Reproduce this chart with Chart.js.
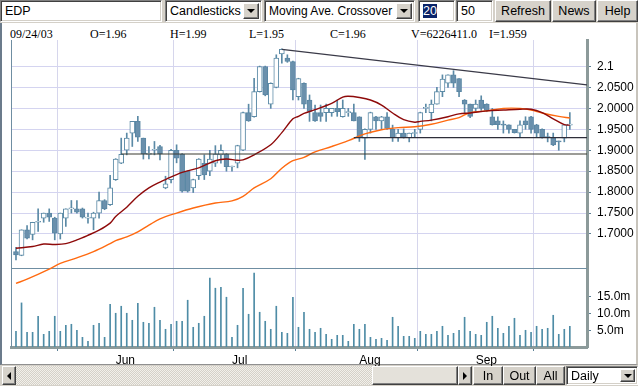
<!DOCTYPE html>
<html>
<head>
<meta charset="utf-8">
<script src="https://cdn.jsdelivr.net/npm/chart.js@4.4.0/dist/chart.umd.min.js"></script>
<style>
  body { margin:0; width:638px; height:386px; position:relative; overflow:hidden; background:#d4d0c8; font-family:'Liberation Sans', Arial, sans-serif; }
  .w { position:absolute; box-sizing:border-box; display:flex; align-items:center; white-space:nowrap; font-size:12.5px; color:#000; }
  .sunk { background:#fff; border:1px solid; border-color:#808080 #fff #fff #808080; box-shadow:inset 1px 1px 0 #404040, inset -1px -1px 0 #d4d0c8; padding-left:4px; }
  .btn { background:#d6d2ca; border:1px solid; border-color:#fff #404040 #404040 #fff; box-shadow:inset -1px -1px 0 #808080; justify-content:center; padding:0; }
  .dd { position:absolute; right:2px; top:2px; bottom:2px; width:16px; }
  .tri-d { width:0; height:0; border-left:4px solid transparent; border-right:4px solid transparent; border-top:4px solid #000; }
  .tri-l { width:0; height:0; border-top:4px solid transparent; border-bottom:4px solid transparent; border-right:4px solid #000; }
  .tri-r { width:0; height:0; border-top:4px solid transparent; border-bottom:4px solid transparent; border-left:4px solid #000; }
  #panel { position:absolute; left:0; top:23px; width:638px; height:342px; box-sizing:border-box; background:#fff; border-left:2px solid #6b7b8b; border-right:2px solid #c8c4bc; border-bottom:1px solid #909090; }
  .info { position:absolute; top:27px; font-family:'Liberation Serif', 'Times New Roman', serif; font-size:12px; color:#000; }
  #track { background:repeating-conic-gradient(#d4d0c8 0 25%, #f2f0ea 0 50%) 0 0/2px 2px; border:none; }
  canvas { position:absolute; left:0; top:0; }
</style>
</head>
<body>
<div id="panel"></div>

<div class="w sunk" style="left:0;top:0;width:162px;height:22px;">EDP</div>
<div class="w sunk" style="left:165px;top:0;width:97px;height:22px;">Candlesticks<div class="w btn dd"><div class="tri-d"></div></div></div>
<div class="w sunk" style="left:264px;top:0;width:151px;height:22px;font-size:12px;">Moving Ave. Crossover<div class="w btn dd"><div class="tri-d"></div></div></div>
<div class="w sunk" style="left:418px;top:0;width:37px;height:22px;"><span style="background:#0a246a;color:#fff;">20</span></div>
<div class="w sunk" style="left:456px;top:0;width:37px;height:22px;">50</div>
<div class="w btn" style="left:495px;top:0;width:56px;height:22px;">Refresh</div>
<div class="w btn" style="left:552px;top:0;width:44px;height:22px;">News</div>
<div class="w btn" style="left:597px;top:0;width:41px;height:22px;">Help</div>

<div class="info" style="left:10px">09/24/03</div>
<div class="info" style="left:90px">O=1.96</div>
<div class="info" style="left:170px">H=1.99</div>
<div class="info" style="left:249px">L=1.95</div>
<div class="info" style="left:330px">C=1.96</div>
<div class="info" style="left:411px">V=6226411.0</div>
<div class="info" style="left:489px">I=1.959</div>

<canvas id="chart" width="638" height="386"></canvas>

<div class="w btn" style="left:2px;top:366px;width:14px;height:19px;"><div class="tri-l"></div></div>
<div class="w" id="track" style="left:16px;top:366px;width:442px;height:19px;"></div>
<div class="w btn" style="left:372px;top:366px;width:86px;height:19px;background:#e4e1da;"></div>
<div class="w btn" style="left:458px;top:366px;width:14px;height:19px;"><div class="tri-r"></div></div>
<div class="w btn" style="left:473px;top:366px;width:30px;height:19px;">In</div>
<div class="w btn" style="left:503px;top:366px;width:33px;height:19px;">Out</div>
<div class="w btn" style="left:536px;top:366px;width:29px;height:19px;">All</div>
<div class="w sunk" style="left:566px;top:366px;width:72px;height:19px;">Daily<div class="w btn dd" style="width:15px"><div class="tri-d"></div></div></div>

<script>
// daily OHLC, index 0 = first trading day shown (early May 2003)
const open = [1.658,1.649,1.710,1.699,1.728,1.738,1.750,1.738,1.700,1.738,
  1.760,1.760,1.760,1.738,1.738,1.750,1.780,1.770,1.830,1.869,
  1.900,1.941,1.969,1.929,1.890,1.900,1.909,1.810,1.830,1.900,
  1.890,1.850,1.810,1.839,1.869,1.850,1.869,1.889,1.891,1.860,
  1.869,1.900,1.990,1.980,2.040,2.100,2.010,2.050,2.130,2.120,
  2.112,2.028,2.060,2.020,1.990,1.990,1.990,1.990,2.000,1.980,
  1.990,1.990,1.980,1.929,1.950,1.980,1.970,1.980,1.950,1.930,
  1.941,1.930,1.940,1.950,2.000,1.990,2.010,2.040,2.060,2.080,
  2.071,2.020,2.010,2.000,2.020,2.010,1.980,1.970,1.961,1.961,
  1.950,1.941,1.970,1.980,1.961,1.950,1.931,1.930,1.921,1.929,
  1.960];
const high = [1.668,1.710,1.720,1.728,1.760,1.750,1.760,1.740,1.750,1.760,
  1.780,1.780,1.762,1.750,1.752,1.800,1.782,1.840,1.880,1.929,
  1.941,1.969,1.981,1.929,1.909,1.921,1.912,1.838,1.902,1.913,
  1.892,1.851,1.831,1.880,1.889,1.900,1.911,1.913,1.892,1.862,
  1.912,1.991,2.010,2.072,2.101,2.101,2.061,2.128,2.142,2.128,
  2.113,2.072,2.061,2.032,2.008,2.008,2.010,2.000,2.020,2.020,
  2.000,2.010,1.980,1.951,1.991,1.981,1.981,1.990,1.960,1.950,
  1.951,1.941,1.950,1.991,2.010,2.020,2.050,2.080,2.080,2.090,
  2.071,2.021,2.010,2.020,2.030,2.011,2.000,1.980,1.970,1.961,
  1.950,1.970,1.980,1.981,1.962,1.951,1.941,1.941,1.922,1.962,
  1.990];
const low = [1.638,1.648,1.688,1.686,1.706,1.728,1.730,1.686,1.688,1.718,
  1.750,1.750,1.738,1.726,1.710,1.738,1.758,1.768,1.828,1.868,
  1.889,1.909,1.921,1.879,1.879,1.889,1.877,1.808,1.822,1.870,
  1.800,1.800,1.799,1.830,1.830,1.839,1.861,1.869,1.850,1.850,
  1.858,1.899,1.969,1.979,2.039,2.030,2.000,2.049,2.108,2.110,
  2.020,2.020,2.000,1.969,1.969,1.969,1.969,1.981,1.981,1.979,
  1.981,1.970,1.921,1.878,1.941,1.950,1.950,1.950,1.921,1.921,
  1.929,1.920,1.930,1.941,1.990,1.970,2.010,2.028,2.050,2.050,
  2.028,1.990,1.978,1.992,1.995,1.992,1.960,1.950,1.941,1.941,
  1.941,1.930,1.950,1.941,1.930,1.929,1.920,1.911,1.900,1.920,
  1.950];
const close = [1.650,1.710,1.690,1.728,1.728,1.750,1.740,1.702,1.750,1.760,
  1.760,1.752,1.740,1.738,1.750,1.780,1.760,1.810,1.879,1.890,
  1.929,1.969,1.931,1.891,1.890,1.900,1.891,1.820,1.900,1.881,
  1.802,1.802,1.830,1.879,1.841,1.879,1.891,1.900,1.861,1.860,
  1.911,1.990,1.970,2.040,2.100,2.032,2.060,2.120,2.141,2.112,
  2.044,2.071,2.010,1.993,1.970,1.981,2.000,2.000,1.992,2.000,
  1.990,1.970,1.930,1.950,1.990,1.970,1.980,1.952,1.930,1.941,
  1.931,1.941,1.940,1.990,2.000,2.010,2.040,2.070,2.080,2.060,
  2.040,2.010,1.981,2.010,2.000,1.995,1.961,1.961,1.960,1.950,
  1.942,1.961,1.961,1.950,1.941,1.931,1.930,1.913,1.920,1.961,
  1.960];
// volume in millions
const volume = [4.7,13.2,4.4,4.4,9.2,3.8,4.7,9.2,4.7,6.5,
  6.8,5.0,2.9,1.7,6.5,7.1,2.9,12.8,10.1,12.2,
  10.1,8.0,13.1,7.4,7.1,11.9,8.0,5.3,6.8,7.7,
  7.7,14.0,5.9,7.1,9.2,20.6,17.6,17.9,14.9,2.9,
  6.5,17.6,9.8,22.1,10.4,7.7,5.3,12.2,4.4,4.1,
  14.9,5.9,10.4,5.3,4.4,5.6,3.8,2.3,3.5,3.5,
  1.7,6.8,5.3,6.8,2.9,2.3,2.6,2.0,8.9,6.2,
  3.2,3.2,2.6,4.7,3.8,3.8,4.7,6.2,3.5,4.1,
  5.0,8.9,4.7,3.8,3.5,7.4,9.2,5.6,4.1,6.2,
  8.6,3.5,5.0,4.4,6.2,5.3,5.6,9.5,3.8,5.3,
  6.2];

// moving averages (day index, value)
const ma20Day = [0,3,5,7,9,11,13,15,17,18,20,22,24,26,27,30,33,36,38,40,41,43,46,48,50,51,52,54,57,59,60,62,64,66,68,70,72,73,75,78,80,82,85,88,91,93,95,97,99,100];
const ma20 = [1.666,1.670,1.676,1.675,1.677,1.686,1.697,1.709,1.726,1.742,1.764,1.790,1.810,1.824,1.830,1.847,1.858,1.875,1.879,1.876,1.877,1.889,1.913,1.942,1.975,1.981,1.988,1.997,2.012,2.027,2.029,2.026,2.020,2.008,1.989,1.973,1.967,1.969,1.972,1.980,1.987,1.989,1.994,1.996,1.998,1.998,1.990,1.975,1.961,1.960];
const ma50Day = [0,2,6,8,11,14,17,18,20,22,24,26,29,32,36,39,41,43,46,48,50,52,54,57,60,63,66,69,72,75,78,80,82,85,88,91,93,95,98,100];
const ma50 = [1.582,1.592,1.616,1.630,1.643,1.658,1.677,1.684,1.693,1.705,1.721,1.736,1.750,1.762,1.774,1.779,1.790,1.810,1.832,1.857,1.875,1.883,1.896,1.909,1.923,1.939,1.949,1.954,1.956,1.962,1.972,1.978,1.990,1.994,2.000,2.000,1.996,1.989,1.981,1.977];

// drawn trend lines (day index, value)
const resistDay = [48, 103.1];
const resistVal = [2.141, 2.056];
const support1Day = [19, 103.1];
const support1Val = [1.891, 1.891];
const support2Day = [61, 103.1];
const support2Val = [1.930, 1.930];

const priceTicks = [1.70, 1.75, 1.80, 1.85, 1.90, 1.95, 2.00, 2.05, 2.10];
const priceTickLabels = ['1.7000','1.7500','1.8000','1.8500','1.9000','1.9500','2.0000','2.0500','2.1'];
const volTicks = [5, 10, 15];
const volTickLabels = ['5.0m','10.0m','15.0m'];
const monthDay = [18, 39, 62, 83];
const monthLabels = ['Jun','Jul','Aug','Sep'];

const WICK = '#5b8aa6';
const FONT = { family: "'Liberation Sans', Arial, sans-serif", size: 12 };
const pts = (xs, ys) => xs.map((x, i) => ({x: x, y: ys[i]}));

const wicks = open.map((o, i) => ({x: i, y: [low[i], high[i]]}));
const upBodies = [], downBodies = [];
open.forEach((o, i) => {
  if (close[i] >= o) upBodies.push({x: i, y: [o, close[i]]});
  else downBodies.push({x: i, y: [close[i], o]});
});
const volBars = volume.map((v, i) => ({x: i, y: v}));

// thin left edge and the line closing the price panel
const framePlugin = {
  id: 'frame',
  beforeDatasetsDraw(chart) {
    const {ctx, chartArea: a, scales} = chart;
    const yb = Math.round(scales.y.bottom) - 0.5;
    ctx.save();
    ctx.strokeStyle = '#6f8ea2';
    ctx.lineWidth = 1;
    ctx.beginPath();
    ctx.moveTo(Math.round(a.left) + 0.5, a.top);
    ctx.lineTo(Math.round(a.left) + 0.5, a.bottom);
    ctx.moveTo(a.left, yb);
    ctx.lineTo(a.right, yb);
    ctx.stroke();
    ctx.restore();
  }
};

const lineDs = (label, data, color, width, order, tension) => ({
  type: 'line', label: label, data: data, borderColor: color, borderWidth: width,
  pointRadius: 0, tension: tension, order: order, yAxisID: 'y', clip: false
});

document.addEventListener('DOMContentLoaded', function () {
  new Chart(document.getElementById('chart').getContext('2d'), {
    type: 'bar',
    data: {
      datasets: [
        lineDs('Resistance', pts(resistDay, resistVal), '#3a3a48', 1.2, 0, 0),
        lineDs('Support 1', pts(support1Day, support1Val), '#3a3a30', 1.2, 0, 0),
        lineDs('Support 2', pts(support2Day, support2Val), '#2e2e3a', 1.2, 0, 0),
        lineDs('MA 20', pts(ma20Day, ma20), '#8e0a0a', 1.4, 1, 0.35),
        lineDs('MA 50', pts(ma50Day, ma50), '#ff6a10', 1.4, 1, 0.35),
        {
          label: 'Up', data: upBodies, yAxisID: 'y', order: 2, grouped: false,
          barThickness: 5, maxBarThickness: 5, minBarLength: 1,
          backgroundColor: '#ffffff', borderColor: WICK, borderWidth: 1, borderSkipped: false
        },
        {
          label: 'Down', data: downBodies, yAxisID: 'y', order: 2, grouped: false,
          barThickness: 5, maxBarThickness: 5, minBarLength: 1,
          backgroundColor: '#6a90ac', borderColor: '#5a87a4', borderWidth: 1, borderSkipped: false
        },
        {
          label: 'Range', data: wicks, yAxisID: 'y', order: 3, grouped: false,
          barThickness: 1, maxBarThickness: 1, minBarLength: 1,
          backgroundColor: WICK, borderWidth: 0
        },
        {
          label: 'Volume', data: volBars, yAxisID: 'yVol', order: 4, grouped: false,
          barThickness: 1, maxBarThickness: 1,
          backgroundColor: '#4e8ca6', borderWidth: 0
        }
      ]
    },
    options: {
      responsive: false,
      animation: false,
      layout: { padding: { left: 11, right: 0, top: 40, bottom: 0 } },
      plugins: { legend: { display: false }, tooltip: { enabled: false } },
      scales: {
        x: {
          type: 'linear', min: -0.9, max: 103.1, offset: false,
          afterBuildTicks: s => { s.ticks = monthDay.map(v => ({value: v})); },
          afterFit: s => { s.height = 39; },
          grid: { color: '#d6d6ec', tickLength: 4, tickColor: '#5b7f95' },
          border: { display: true, color: '#8c9a9a', width: 3 },
          ticks: {
            autoSkip: false, maxRotation: 0, align: 'start', padding: 2,
            color: '#000', font: FONT,
            callback: (v, i) => monthLabels[i]
          }
        },
        y: {
          type: 'linear', position: 'right', stack: 'right', stackWeight: 229,
          min: 1.6164, max: 2.1633,
          afterBuildTicks: s => { s.ticks = priceTicks.map(v => ({value: v})); },
          afterFit: s => { s.width = 51; },
          grid: { color: '#d4d4f0', tickLength: 4, tickColor: '#5b7f95' },
          border: { display: true, color: '#8c9a9a', width: 3 },
          ticks: {
            autoSkip: false, padding: 6, color: '#000', font: FONT,
            callback: (v, i) => priceTickLabels[i]
          }
        },
        yVol: {
          type: 'linear', position: 'right', stack: 'right', stackWeight: 78,
          min: 0, max: 23.35,
          afterBuildTicks: s => { s.ticks = volTicks.map(v => ({value: v})); },
          afterFit: s => { s.width = 51; },
          grid: { drawOnChartArea: false, tickLength: 4, tickColor: '#5b7f95' },
          border: { display: true, color: '#8c9a9a', width: 3 },
          ticks: {
            autoSkip: false, padding: 6, color: '#000', font: FONT,
            callback: (v, i) => volTickLabels[i]
          }
        }
      }
    },
    plugins: [framePlugin]
  });
});
</script>
</body>
</html>
